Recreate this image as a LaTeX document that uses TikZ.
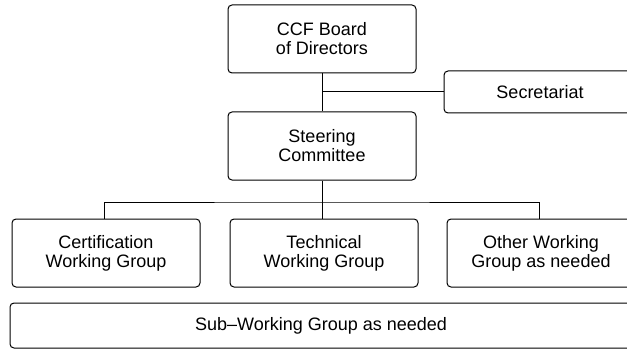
\documentclass[tikz,border=0pt]{standalone}
\usepackage{fontspec}
\setmainfont{Liberation Sans}
\tikzset{every picture/.style={line width=0.75pt}}
\tikzset{orgbox/.style={draw, rounded corners=3pt, align=center, inner sep=0.75pt,
    font=\fontsize{13.5}{14.25}\selectfont}}

\begin{document}
\begin{tikzpicture}[x=0.75pt,y=0.75pt,yscale=-1,xscale=1]
\useasboundingbox (0,0) rectangle (627,349);
% Top level
\node [orgbox, minimum width=141pt, minimum height=51pt] (board) at (322,39) {CCF Board\\of Directors};
\node [orgbox, minimum width=144pt, minimum height=31.5pt] (secr) at (540,92) {Secretariat};
\node [orgbox, minimum width=141pt, minimum height=51pt] (steer) at (322,146) {Steering\\Committee};
% Working groups
\node [orgbox, minimum width=141pt, minimum height=51pt] (certwg) at (106,253) {Certification\\Working Group};
\node [orgbox, minimum width=141pt, minimum height=51pt] (techwg) at (324,253) {Technical\\Working Group};
\node [orgbox, minimum width=141pt, minimum height=51pt] (otherwg) at (541,253) {Other Working\\Group as needed};
\node [orgbox, minimum width=466.5pt, minimum height=33.75pt] (subwg) at (321,325.5) {Sub--Working Group as needed};
% Connectors
\coordinate (bus) at (322,202);
\draw (board.south) -- (steer.north);
\draw (secr.west) -- (secr.west -| board.south);
\draw (steer.south) -- (steer.south |- techwg.north);
\draw (certwg.north) ++(-2,0) |- (bus) -| ([xshift=-1.5pt]otherwg.north);
\end{tikzpicture}
\end{document}
